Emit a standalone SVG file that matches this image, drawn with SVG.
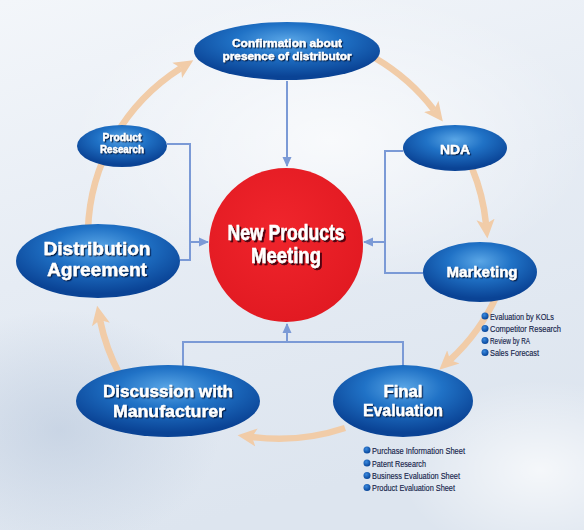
<svg xmlns="http://www.w3.org/2000/svg" width="584" height="530" viewBox="0 0 584 530">
<defs>
<linearGradient id="bg" x1="0" y1="0" x2="0.3" y2="1">
<stop offset="0" stop-color="#f3f6fa"/>
<stop offset="0.5" stop-color="#e6ecf4"/>
<stop offset="1" stop-color="#dde5ef"/>
</linearGradient>
<radialGradient id="bg2" cx="0.5" cy="0.5" r="0.5">
<stop offset="0" stop-color="#ffffff" stop-opacity="0.7"/>
<stop offset="1" stop-color="#ffffff" stop-opacity="0"/>
</radialGradient>
<radialGradient id="bg3" cx="0.5" cy="0.5" r="0.5">
<stop offset="0" stop-color="#b9c8dc" stop-opacity="0.6"/>
<stop offset="1" stop-color="#b9c8dc" stop-opacity="0"/>
</radialGradient>
<radialGradient id="blue" cx="0.5" cy="0.32" r="0.62">
<stop offset="0" stop-color="#5aa6e6"/>
<stop offset="0.45" stop-color="#2072c6"/>
<stop offset="1" stop-color="#0a4395"/>
</radialGradient>
<radialGradient id="red" cx="0.45" cy="0.4" r="0.6">
<stop offset="0" stop-color="#f0252c"/>
<stop offset="1" stop-color="#e21a22"/>
</radialGradient>
<radialGradient id="dot" cx="0.4" cy="0.35" r="0.6">
<stop offset="0" stop-color="#3a8ae0"/>
<stop offset="1" stop-color="#0b4a9e"/>
</radialGradient>
<filter id="ts" x="-10%" y="-30%" width="120%" height="160%">
<feDropShadow dx="1.2" dy="1.2" stdDeviation="0.5" flood-color="#06183d" flood-opacity="0.9"/>
</filter>
<filter id="tsr" x="-10%" y="-30%" width="120%" height="160%">
<feDropShadow dx="2" dy="2" stdDeviation="0.6" flood-color="#4a0008" flood-opacity="0.95"/>
</filter>
<marker id="oa" markerUnits="userSpaceOnUse" markerWidth="20" markerHeight="20" viewBox="0 0 22 22" refX="5" refY="11" orient="auto">
<path d="M0,1 L21,11 L0,21 L5,11 z" fill="#f1cca8"/>
</marker>
<marker id="ba" markerUnits="userSpaceOnUse" markerWidth="10" markerHeight="10" viewBox="0 0 10 10" refX="9" refY="5" orient="auto">
<path d="M0,0.5 L10,5 L0,9.5 z" fill="#7b9ad6"/>
</marker>
<style>
.arc{fill:none;stroke:#f1cca8;stroke-width:6.5;marker-end:url(#oa)}
.con{fill:none;stroke:#7b9ad6;stroke-width:2}
.node{fill:url(#blue)}
.lbl{font-family:"Liberation Sans",Arial,sans-serif;font-weight:bold;fill:#ffffff;stroke:#ffffff;stroke-width:0.35;text-anchor:middle;filter:url(#ts)}
.bul{font-family:"Liberation Sans",Arial,sans-serif;font-size:9.5px;fill:#15234a;stroke:#15234a;stroke-width:0.15}
.dot{fill:url(#dot)}
</style>
</defs>
<rect width="584" height="530" fill="url(#bg)"/>
<ellipse cx="330" cy="140" rx="260" ry="150" fill="url(#bg2)"/>
<ellipse cx="60" cy="430" rx="160" ry="120" fill="url(#bg3)"/>
<ellipse cx="540" cy="470" rx="140" ry="90" fill="url(#bg2)"/>

<g id="cycle">
<path class="arc" d="M88,230 A205,200 0 0 1 181,68"/>
<path class="arc" d="M375,58 A205,200 0 0 1 434,110"/>
<path class="arc" d="M472,168 A205,200 0 0 1 486,224"/>
<path class="arc" d="M497,295 A205,200 0 0 1 450,360"/>
<path class="arc" d="M345,428 A205,200 0 0 1 252,437"/>
<path class="arc" d="M120,375 A205,200 0 0 1 100,320"/>
</g>

<g id="connectors">
<path class="con" d="M287,81 L287,166" marker-end="url(#ba)"/>
<path class="con" d="M167,144 L190,144 L190,260 L180,260"/>
<path class="con" d="M190,242 L208,242" marker-end="url(#ba)"/>
<path class="con" d="M403,151 L385,151 L385,273 L423,273"/>
<path class="con" d="M385,242 L364,242" marker-end="url(#ba)"/>
<path class="con" d="M183,366 L183,342 L403,342 L403,366"/>
<path class="con" d="M287,342 L287,324" marker-end="url(#ba)"/>
</g>

<g id="center">
<circle cx="286" cy="245" r="77" fill="url(#red)"/>
<text x="286" y="240" font-family="'Liberation Sans',Arial,sans-serif" font-weight="bold" font-size="22" fill="#fff" stroke="#fff" stroke-width="0.4" text-anchor="middle" textLength="117" lengthAdjust="spacingAndGlyphs" filter="url(#tsr)">New Products</text>
<text x="286" y="263" font-family="'Liberation Sans',Arial,sans-serif" font-weight="bold" font-size="22" fill="#fff" stroke="#fff" stroke-width="0.4" text-anchor="middle" textLength="70" lengthAdjust="spacingAndGlyphs" filter="url(#tsr)">Meeting</text>
</g>

<g id="confirmation">
<ellipse class="node" cx="287" cy="51" rx="93" ry="29"/>
<text class="lbl" x="287" y="47" font-size="11.5" textLength="110" lengthAdjust="spacingAndGlyphs">Confirmation about</text>
<text class="lbl" x="287" y="60" font-size="11.5" textLength="129" lengthAdjust="spacingAndGlyphs">presence of distributor</text>
</g>

<g id="nda">
<ellipse class="node" cx="455" cy="148" rx="52" ry="23"/>
<text class="lbl" x="455" y="154" font-size="13" textLength="30" lengthAdjust="spacingAndGlyphs">NDA</text>
</g>

<g id="product-research">
<ellipse class="node" cx="122" cy="146" rx="45" ry="21"/>
<text class="lbl" x="122" y="141" font-size="10.5" textLength="39" lengthAdjust="spacingAndGlyphs">Product</text>
<text class="lbl" x="122" y="153" font-size="10.5" textLength="44" lengthAdjust="spacingAndGlyphs">Research</text>
</g>

<g id="distribution-agreement">
<ellipse class="node" cx="98" cy="261" rx="82" ry="37"/>
<text class="lbl" x="97" y="255" font-size="19" textLength="107" lengthAdjust="spacingAndGlyphs">Distribution</text>
<text class="lbl" x="97" y="276" font-size="19" textLength="100" lengthAdjust="spacingAndGlyphs">Agreement</text>
</g>

<g id="marketing">
<ellipse class="node" cx="480" cy="272" rx="57" ry="30"/>
<text class="lbl" x="482" y="277" font-size="15.5" textLength="71" lengthAdjust="spacingAndGlyphs">Marketing</text>
<circle class="dot" cx="485" cy="316" r="3.5"/>
<circle class="dot" cx="485" cy="328.5" r="3.5"/>
<circle class="dot" cx="485" cy="340.5" r="3.5"/>
<circle class="dot" cx="485" cy="352.5" r="3.5"/>
<text class="bul" x="490" y="319.5" textLength="64" lengthAdjust="spacingAndGlyphs">Evaluation by KOLs</text>
<text class="bul" x="490" y="332" textLength="71" lengthAdjust="spacingAndGlyphs">Competitor Research</text>
<text class="bul" x="490" y="344" textLength="40" lengthAdjust="spacingAndGlyphs">Review by RA</text>
<text class="bul" x="490" y="356" textLength="49" lengthAdjust="spacingAndGlyphs">Sales Forecast</text>
</g>

<g id="final-evaluation">
<ellipse class="node" cx="403" cy="401" rx="70" ry="36"/>
<text class="lbl" x="403" y="397" font-size="17" textLength="39" lengthAdjust="spacingAndGlyphs">Final</text>
<text class="lbl" x="403" y="416" font-size="17" textLength="80" lengthAdjust="spacingAndGlyphs">Evaluation</text>
<circle class="dot" cx="367" cy="450" r="3.5"/>
<circle class="dot" cx="367" cy="463" r="3.5"/>
<circle class="dot" cx="367" cy="475.5" r="3.5"/>
<circle class="dot" cx="367" cy="487.5" r="3.5"/>
<text class="bul" x="372" y="453.5" textLength="93" lengthAdjust="spacingAndGlyphs">Purchase Information Sheet</text>
<text class="bul" x="372" y="466.5" textLength="54" lengthAdjust="spacingAndGlyphs">Patent Research</text>
<text class="bul" x="372" y="479" textLength="88" lengthAdjust="spacingAndGlyphs">Business Evaluation Sheet</text>
<text class="bul" x="372" y="491" textLength="83" lengthAdjust="spacingAndGlyphs">Product Evaluation Sheet</text>
</g>

<g id="discussion">
<ellipse class="node" cx="168" cy="401" rx="92" ry="36"/>
<text class="lbl" x="168" y="397" font-size="17" textLength="130" lengthAdjust="spacingAndGlyphs">Discussion with</text>
<text class="lbl" x="169" y="417" font-size="17" textLength="112" lengthAdjust="spacingAndGlyphs">Manufacturer</text>
</g>
</svg>
